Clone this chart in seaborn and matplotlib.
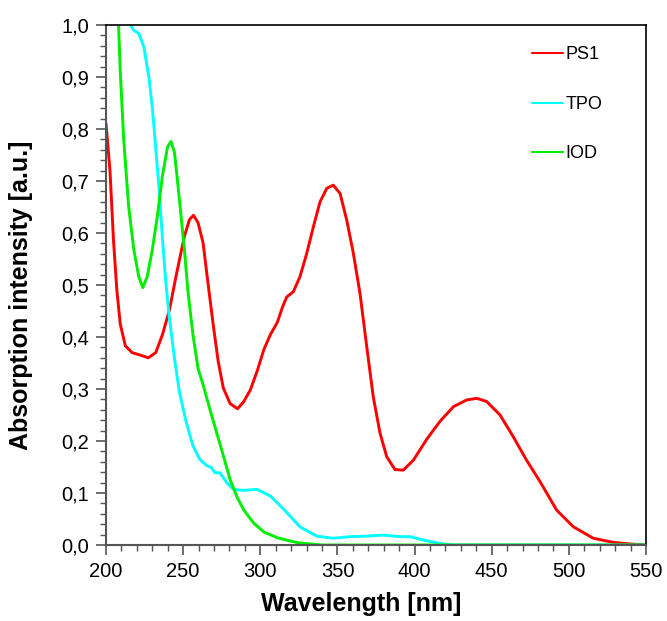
# Absorption spectra of PS1, TPO and IOD

import pandas as pd
import matplotlib
matplotlib.use('Agg')
import matplotlib.pyplot as plt
from matplotlib.ticker import MultipleLocator, FuncFormatter
import seaborn as sns

# PS1 spectrum
ps1_nm = [200, 202.6, 204.8, 207, 209.2, 212.5, 216.9, 222.4, 227.4, 232.2, 236.6, 241,
          245.3, 250.8, 254.1, 256.7, 259.6, 262.9, 266.1, 269.4, 272.7, 276, 280.4, 285.2,
          289.1, 293.5, 297.9, 302.3, 306.6, 311, 314.3, 317.1, 321.4, 325.7, 330.1, 334.4,
          338.7, 343.1, 347.3, 351.7, 356, 360.3, 364.6, 369, 373.2, 377.6, 381.9, 387.3,
          392.7, 399.2, 407.8, 416.5, 425.2, 433.8, 440.3, 446.7, 455.4, 464, 472.6, 481.3,
          492.1, 502.9, 515.8, 528.8, 539.6, 550]
ps1_abs = [0.81, 0.717, 0.587, 0.49, 0.425, 0.383, 0.370, 0.365, 0.360, 0.370, 0.405, 0.451,
           0.516, 0.594, 0.626, 0.634, 0.620, 0.581, 0.503, 0.425, 0.353, 0.302, 0.272, 0.262,
           0.275, 0.298, 0.334, 0.376, 0.405, 0.428, 0.457, 0.477, 0.487, 0.516, 0.561, 0.612,
           0.660, 0.686, 0.692, 0.676, 0.625, 0.561, 0.484, 0.381, 0.285, 0.215, 0.170, 0.145,
           0.144, 0.163, 0.203, 0.238, 0.266, 0.279, 0.282, 0.276, 0.250, 0.208, 0.163, 0.122,
           0.067, 0.035, 0.013, 0.005, 0.002, 0.0]

# TPO spectrum
tpo_nm = [212, 215.8, 217.9, 221.2, 224.5, 227.8, 230, 232.2, 234.4, 236.6, 238.8, 241,
          244.3, 247.5, 251.9, 256.3, 260.7, 265.1, 268.3, 270.5, 273.8, 278.2, 282.6, 289.1,
          297.9, 306.6, 315.4, 325.7, 336.6, 347.3, 358.1, 368.9, 379.7, 390.5, 397, 407.8,
          416.5, 425, 550]
tpo_abs = [1.05, 1.0, 0.99, 0.984, 0.958, 0.899, 0.841, 0.763, 0.685, 0.587, 0.503, 0.438,
           0.360, 0.295, 0.237, 0.191, 0.165, 0.153, 0.149, 0.139, 0.139, 0.120, 0.107, 0.105,
           0.107, 0.094, 0.068, 0.035, 0.017, 0.013, 0.016, 0.017, 0.019, 0.016, 0.016, 0.008,
           0.003, 0.0, 0.0]

# IOD spectrum
iod_nm = [205, 208.1, 209.2, 211.4, 214.6, 218, 221.2, 223.8, 226.7, 230, 233.3, 236.6,
          239.9, 242.1, 244.3, 246.4, 248.6, 250.8, 253, 256.3, 259.6, 262.9, 267.2, 271.6,
          276, 280.4, 284.8, 289.1, 295.7, 302.3, 311, 317.6, 325, 340, 550]
iod_abs = [1.1, 1.0, 0.912, 0.782, 0.652, 0.568, 0.516, 0.495, 0.516, 0.568, 0.633, 0.711,
           0.766, 0.776, 0.756, 0.698, 0.633, 0.568, 0.490, 0.405, 0.340, 0.308, 0.262, 0.217,
           0.172, 0.126, 0.093, 0.068, 0.042, 0.025, 0.014, 0.009, 0.004, 0.0, 0.0]

names = ['PS1', 'TPO', 'IOD']
colors = {'PS1': '#ff0000', 'TPO': '#00ffff', 'IOD': '#00ee00'}

df = pd.concat([
    pd.DataFrame({'nm': ps1_nm, 'abs': ps1_abs, 'sample': 'PS1'}),
    pd.DataFrame({'nm': tpo_nm, 'abs': tpo_abs, 'sample': 'TPO'}),
    pd.DataFrame({'nm': iod_nm, 'abs': iod_abs, 'sample': 'IOD'}),
], ignore_index=True)

sns.set_style('ticks')
plt.rcParams['font.family'] = ['Liberation Sans', 'DejaVu Sans']

fig = plt.figure(figsize=(6.67, 6.21), dpi=100)
ax = fig.add_axes([0.159, 0.1224, 0.8095, 0.8373])

sns.lineplot(data=df, x='nm', y='abs', hue='sample', hue_order=names, palette=colors,
             estimator=None, sort=False, linewidth=2.1, ax=ax)
for line in ax.get_lines():
    line.set_solid_joinstyle('round')

ax.set_xlim(200, 550)
ax.set_ylim(0, 1.0)
ax.xaxis.set_major_locator(MultipleLocator(50))
ax.xaxis.set_minor_locator(MultipleLocator(10))
ax.yaxis.set_major_locator(MultipleLocator(0.1))
ax.yaxis.set_minor_locator(MultipleLocator(0.02))
ax.yaxis.set_major_formatter(FuncFormatter(lambda v, p: f'{v:.1f}'.replace('.', ',')))
ax.tick_params(which='major', length=7, width=1.2, color='#555555', labelcolor='black',
               labelsize=14.5, pad=5)
ax.tick_params(which='minor', length=4, width=1.0, color='#555555')

for side in ['top', 'right']:
    ax.spines[side].set_visible(True)
    ax.spines[side].set_color('black')
    ax.spines[side].set_linewidth(1.2)
for side in ['left', 'bottom']:
    ax.spines[side].set_color('#555555')
    ax.spines[side].set_linewidth(1.5)

ax.set_xlabel('Wavelength [nm]', fontsize=18, fontweight='bold', color='black')
ax.set_ylabel('Absorption intensity [a.u.]', fontsize=18, fontweight='bold', color='black')
ax.xaxis.set_label_coords(0.472, -0.09)
ax.yaxis.set_label_coords(-0.135, 0.48)

leg = ax.legend(loc='upper left', bbox_to_anchor=(0.789, 0.959), frameon=False, fontsize=13,
                handlelength=1.7, handletextpad=0.15, labelspacing=1.8,
                borderpad=0, borderaxespad=0)
for text in leg.get_texts():
    text.set_color('black')
for line in leg.get_lines():
    line.set_linewidth(1.5)

fig.savefig('out.png', dpi=100)
